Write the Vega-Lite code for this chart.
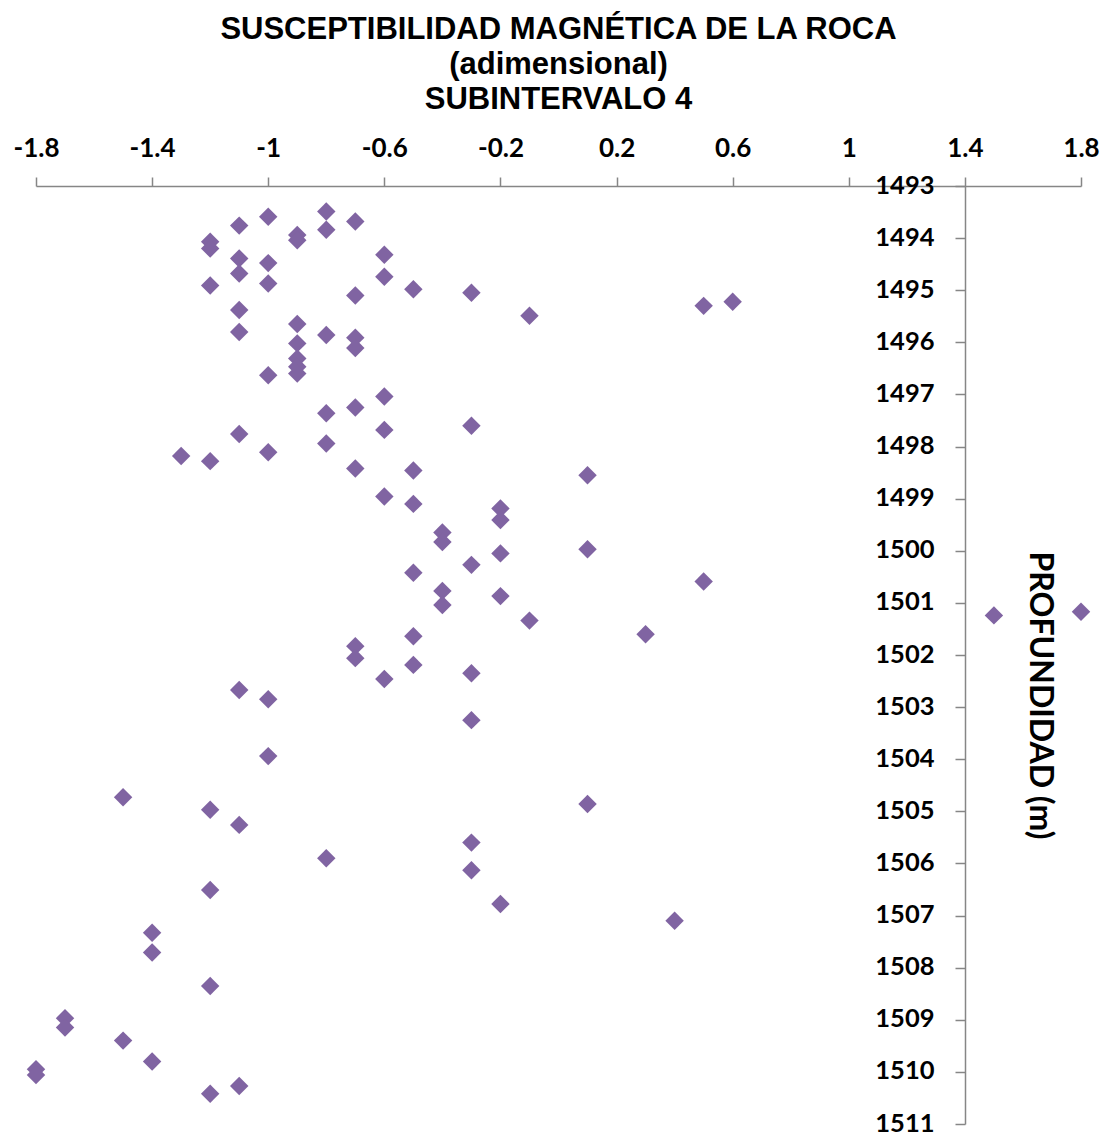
{
  "$schema": "https://vega.github.io/schema/vega-lite/v6.json",
  "autosize": "none",
  "width": 1045,
  "height": 938,
  "padding": {"left": 36, "top": 186, "right": 25, "bottom": 11},
  "background": "white",
  "config": {"view": {"stroke": null}},
  "title": {
    "text": ["SUSCEPTIBILIDAD MAGNÉTICA DE LA ROCA", "(adimensional)", "SUBINTERVALO 4"],
    "font": "Liberation Sans",
    "fontSize": 31,
    "fontWeight": "bold",
    "color": "#000000",
    "lineHeight": 35,
    "anchor": "middle",
    "offset": 19
  },
  "data": {
    "values": [
      {"susceptibilidad": -1.1, "profundidad": 1493.76},
      {"susceptibilidad": -1.0, "profundidad": 1493.59},
      {"susceptibilidad": -0.8, "profundidad": 1493.49},
      {"susceptibilidad": -0.8, "profundidad": 1493.84},
      {"susceptibilidad": -0.7, "profundidad": 1493.68},
      {"susceptibilidad": -1.2, "profundidad": 1494.07},
      {"susceptibilidad": -1.2, "profundidad": 1494.2},
      {"susceptibilidad": -0.9, "profundidad": 1493.94},
      {"susceptibilidad": -0.9, "profundidad": 1494.04},
      {"susceptibilidad": -0.6, "profundidad": 1494.32},
      {"susceptibilidad": -1.1, "profundidad": 1494.39},
      {"susceptibilidad": -1.1, "profundidad": 1494.68},
      {"susceptibilidad": -1.0, "profundidad": 1494.48},
      {"susceptibilidad": -1.0, "profundidad": 1494.87},
      {"susceptibilidad": -0.6, "profundidad": 1494.74},
      {"susceptibilidad": -1.2, "profundidad": 1494.91},
      {"susceptibilidad": -0.7, "profundidad": 1495.1},
      {"susceptibilidad": -0.5, "profundidad": 1494.98},
      {"susceptibilidad": -0.3, "profundidad": 1495.05},
      {"susceptibilidad": -0.1, "profundidad": 1495.49},
      {"susceptibilidad": 0.5, "profundidad": 1495.3},
      {"susceptibilidad": 0.6, "profundidad": 1495.22},
      {"susceptibilidad": -1.1, "profundidad": 1495.38},
      {"susceptibilidad": -1.1, "profundidad": 1495.8},
      {"susceptibilidad": -0.9, "profundidad": 1495.65},
      {"susceptibilidad": -0.8, "profundidad": 1495.86},
      {"susceptibilidad": -0.7, "profundidad": 1495.91},
      {"susceptibilidad": -0.7, "profundidad": 1496.11},
      {"susceptibilidad": -0.9, "profundidad": 1496.02},
      {"susceptibilidad": -0.9, "profundidad": 1496.31},
      {"susceptibilidad": -0.9, "profundidad": 1496.47},
      {"susceptibilidad": -0.9, "profundidad": 1496.6},
      {"susceptibilidad": -1.0, "profundidad": 1496.63},
      {"susceptibilidad": -0.6, "profundidad": 1497.04},
      {"susceptibilidad": -0.7, "profundidad": 1497.25},
      {"susceptibilidad": -0.8, "profundidad": 1497.36},
      {"susceptibilidad": -0.6, "profundidad": 1497.68},
      {"susceptibilidad": -0.3, "profundidad": 1497.6},
      {"susceptibilidad": -1.1, "profundidad": 1497.76},
      {"susceptibilidad": -0.8, "profundidad": 1497.94},
      {"susceptibilidad": -1.0, "profundidad": 1498.11},
      {"susceptibilidad": -1.3, "profundidad": 1498.18},
      {"susceptibilidad": -1.2, "profundidad": 1498.28},
      {"susceptibilidad": -0.7, "profundidad": 1498.42},
      {"susceptibilidad": -0.5, "profundidad": 1498.46},
      {"susceptibilidad": 0.1, "profundidad": 1498.55},
      {"susceptibilidad": -0.6, "profundidad": 1498.96},
      {"susceptibilidad": -0.5, "profundidad": 1499.1},
      {"susceptibilidad": -0.2, "profundidad": 1499.19},
      {"susceptibilidad": -0.2, "profundidad": 1499.41},
      {"susceptibilidad": -0.4, "profundidad": 1499.65},
      {"susceptibilidad": -0.4, "profundidad": 1499.83},
      {"susceptibilidad": 0.1, "profundidad": 1499.97},
      {"susceptibilidad": -0.2, "profundidad": 1500.05},
      {"susceptibilidad": -0.3, "profundidad": 1500.27},
      {"susceptibilidad": -0.5, "profundidad": 1500.42},
      {"susceptibilidad": 0.5, "profundidad": 1500.59},
      {"susceptibilidad": -0.4, "profundidad": 1500.77},
      {"susceptibilidad": -0.4, "profundidad": 1501.04},
      {"susceptibilidad": -0.2, "profundidad": 1500.87},
      {"susceptibilidad": -0.1, "profundidad": 1501.34},
      {"susceptibilidad": 0.3, "profundidad": 1501.6},
      {"susceptibilidad": -0.5, "profundidad": 1501.64},
      {"susceptibilidad": 1.5, "profundidad": 1501.24},
      {"susceptibilidad": 1.8, "profundidad": 1501.17},
      {"susceptibilidad": -0.7, "profundidad": 1501.83},
      {"susceptibilidad": -0.7, "profundidad": 1502.06},
      {"susceptibilidad": -0.5, "profundidad": 1502.19},
      {"susceptibilidad": -0.3, "profundidad": 1502.35},
      {"susceptibilidad": -0.6, "profundidad": 1502.46},
      {"susceptibilidad": -1.1, "profundidad": 1502.67},
      {"susceptibilidad": -1.0, "profundidad": 1502.85},
      {"susceptibilidad": -0.3, "profundidad": 1503.25},
      {"susceptibilidad": -1.0, "profundidad": 1503.94},
      {"susceptibilidad": -1.5, "profundidad": 1504.73},
      {"susceptibilidad": 0.1, "profundidad": 1504.86},
      {"susceptibilidad": -1.2, "profundidad": 1504.97},
      {"susceptibilidad": -1.1, "profundidad": 1505.26},
      {"susceptibilidad": -0.3, "profundidad": 1505.6},
      {"susceptibilidad": -0.8, "profundidad": 1505.9},
      {"susceptibilidad": -0.3, "profundidad": 1506.13},
      {"susceptibilidad": -1.2, "profundidad": 1506.51},
      {"susceptibilidad": -0.2, "profundidad": 1506.78},
      {"susceptibilidad": 0.4, "profundidad": 1507.1},
      {"susceptibilidad": -1.4, "profundidad": 1507.33},
      {"susceptibilidad": -1.4, "profundidad": 1507.71},
      {"susceptibilidad": -1.2, "profundidad": 1508.35},
      {"susceptibilidad": -1.7, "profundidad": 1508.97},
      {"susceptibilidad": -1.7, "profundidad": 1509.15},
      {"susceptibilidad": -1.5, "profundidad": 1509.4},
      {"susceptibilidad": -1.4, "profundidad": 1509.8},
      {"susceptibilidad": -1.8, "profundidad": 1509.95},
      {"susceptibilidad": -1.8, "profundidad": 1510.06},
      {"susceptibilidad": -1.1, "profundidad": 1510.27},
      {"susceptibilidad": -1.2, "profundidad": 1510.42}
    ]
  },
  "mark": {"type": "point", "shape": "diamond", "filled": true, "size": 340, "color": "#8064A2", "opacity": 1, "strokeWidth": 0},
  "encoding": {
    "x": {
      "field": "susceptibilidad",
      "type": "quantitative",
      "scale": {"domain": [-1.8, 1.8], "nice": false, "zero": false},
      "axis": {
        "orient": "top",
        "title": null,
        "values": [-1.8, -1.4, -1, -0.6, -0.2, 0.2, 0.6, 1, 1.4, 1.8],
        "labelExpr": "'' + datum.value",
        "grid": false,
        "domainColor": "#868686",
        "domainWidth": 1.5,
        "tickColor": "#868686",
        "tickWidth": 1.5,
        "tickSize": 9,
        "labelFont": "Lato",
        "labelFontSize": 26,
        "labelFontWeight": "bold",
        "labelColor": "#000000",
        "labelPadding": 16,
        "labelFlush": false,
        "labelOverlap": false
      }
    },
    "y": {
      "field": "profundidad",
      "type": "quantitative",
      "scale": {"domain": [1493, 1511], "reverse": true, "nice": false, "zero": false},
      "axis": {
        "orient": "left",
        "offset": -929,
        "title": "PROFUNDIDAD (m)",
        "titleFont": "Lato",
        "titleFontSize": 32,
        "titleFontWeight": "bold",
        "titleColor": "#000000",
        "titleAngle": 90,
        "titleAlign": "center",
        "titleBaseline": "middle",
        "titleX": 74,
        "titleY": 509,
        "values": [1493, 1494, 1495, 1496, 1497, 1498, 1499, 1500, 1501, 1502, 1503, 1504, 1505, 1506, 1507, 1508, 1509, 1510, 1511],
        "format": "d",
        "grid": false,
        "domainColor": "#868686",
        "domainWidth": 1.5,
        "tickColor": "#868686",
        "tickWidth": 1.5,
        "tickSize": 10,
        "labelFont": "Lato",
        "labelFontSize": 25.5,
        "labelFontWeight": "bold",
        "labelColor": "#000000",
        "labelPadding": 21,
        "labelOffset": -1,
        "labelFlush": false,
        "labelOverlap": false
      }
    }
  }
}
